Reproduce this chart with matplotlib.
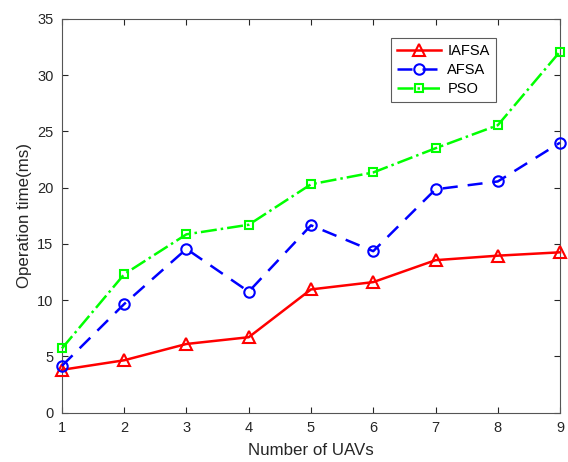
import matplotlib
matplotlib.use("Agg")
import matplotlib.pyplot as plt

plt.rcParams["font.family"] = ["Liberation Sans", "DejaVu Sans"]

n_uavs = [1, 2, 3, 4, 5, 6, 7, 8, 9]
iafsa = [3.8, 4.65, 6.1, 6.7, 10.95, 11.6, 13.55, 13.95, 14.25]
afsa = [4.15, 9.65, 14.55, 10.75, 16.65, 14.35, 19.85, 20.55, 24.0]
pso = [5.7, 12.3, 15.85, 16.7, 20.3, 21.35, 23.5, 25.55, 32.1]

AX_C = "#262626"

fig = plt.figure(figsize=(5.68, 4.62), dpi=100)
ax = fig.add_axes([0.109, 0.107, 0.877, 0.852])

ax.plot(n_uavs, iafsa, "-^", color="#ff0000", lw=1.8, ms=8, mfc="none",
        mew=1.5, label="IAFSA", clip_on=False, zorder=3)
ax.plot(n_uavs, afsa, "--o", color="#0000ff", lw=1.8, ms=7.5, mfc="none",
        mew=1.5, dashes=(6, 4), label="AFSA", clip_on=False, zorder=3)
ax.plot(n_uavs, pso, "-.s", color="#00ff00", lw=1.8, ms=6, mfc="none",
        mew=1.5, label="PSO", clip_on=False, zorder=3)

ax.set_xlim(1, 9)
ax.set_ylim(0, 35)
ax.set_xticks(n_uavs)
ax.set_yticks(range(0, 36, 5))
ax.tick_params(direction="in", top=True, right=True, length=4, width=0.8,
               labelsize=10.5, colors=AX_C, pad=6)
for s in ax.spines.values():
    s.set_color("#555555")
    s.set_linewidth(0.8)

ax.set_xlabel("Number of UAVs", fontsize=12.2, color=AX_C, labelpad=6)
ax.set_ylabel("Operation time(ms)", fontsize=12.2, color=AX_C, labelpad=4)

leg = ax.legend(loc="upper left", bbox_to_anchor=(0.661, 0.952), fontsize=10.5,
                frameon=True, fancybox=False, edgecolor="#333333",
                borderaxespad=0, handlelength=3.0, borderpad=0.4,
                labelspacing=0.35, handletextpad=0.45)
leg.get_frame().set_linewidth(0.8)

fig.savefig("out.png", dpi=100)
